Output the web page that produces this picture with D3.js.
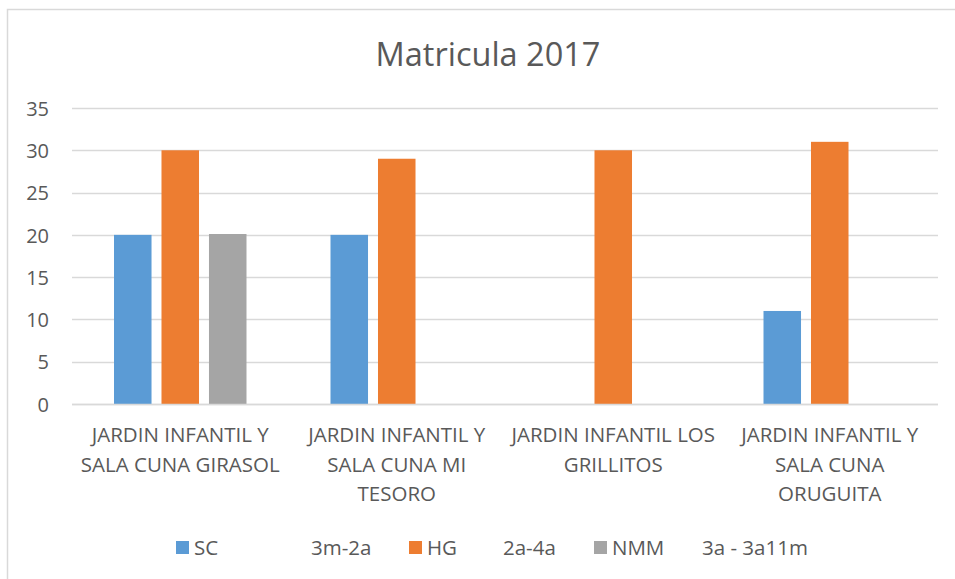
<!DOCTYPE html>
<html>
<head>
<meta charset="utf-8">
<script src="https://cdn.jsdelivr.net/npm/d3@7"></script>
<style>
  html, body { margin: 0; padding: 0; background: #fff; }
  svg text { font-family: "Open Sans", "Noto Sans", sans-serif; fill: #595959; }
</style>
</head>
<body>
<svg id="chart" width="955" height="579"></svg>
<script>
// Enrolment per kindergarten (category labels carry their own line breaks)
const categories = [
  "JARDIN INFANTIL Y\nSALA CUNA GIRASOL",
  "JARDIN INFANTIL Y\nSALA CUNA MI\nTESORO",
  "JARDIN INFANTIL LOS\nGRILLITOS",
  "JARDIN INFANTIL Y\nSALA CUNA\nORUGUITA"
];
const seriesNames = ["SC", "HG", "NMM"];
const seriesAges = ["3m-2a", "2a-4a", "3a - 3a11m"];
const seriesColors = ["#5B9BD5", "#ED7D31", "#A5A5A5"];
const valuesSC = [20, 20, null, 11];
const valuesHG = [30, 29, 30, 31];
const valuesNMM = [20.1, null, null, null];
const yTicks = [0, 5, 10, 15, 20, 25, 30, 35];
const title = "Matricula 2017";

const seriesValues = [valuesSC, valuesHG, valuesNMM];

const svg = d3.select("#chart");
const plot = { left: 72, right: 938, top: 108, bottom: 404 };

// Outer chart border
svg.append("rect")
  .attr("x", 7.5).attr("y", 9.5)
  .attr("width", 980).attr("height", 600)
  .attr("fill", "none").attr("stroke", "#D9D9D9").attr("stroke-width", 1.5);

// Title
svg.append("text")
  .attr("x", 488).attr("y", 66)
  .attr("text-anchor", "middle")
  .style("font-size", "32.5px")
  .text(title);

const y = d3.scaleLinear().domain([0, 35]).range([plot.bottom, plot.top]);
const x0 = d3.scaleBand().domain(categories).range([plot.left, plot.right]).padding(0);
const groupWidth = x0.bandwidth() * 0.612;
const x1 = d3.scaleBand().domain(seriesNames)
  .range([0, groupWidth]).paddingInner(0.21).paddingOuter(0);

// Gridlines
svg.append("g")
  .selectAll("line")
  .data(yTicks)
  .join("line")
  .attr("x1", plot.left).attr("x2", plot.right)
  .attr("y1", d => Math.round(y(d)) + 0.5).attr("y2", d => Math.round(y(d)) + 0.5)
  .attr("stroke", "#D9D9D9").attr("stroke-width", 1.3);

// Y axis labels
const yAxis = d3.axisLeft(y).tickValues(yTicks).tickSize(0).tickPadding(0);
const gy = svg.append("g").attr("transform", `translate(49,0)`).call(yAxis);
gy.select(".domain").remove();
gy.selectAll("text")
  .style("font-size", "20px")
  .style("font-family", "'Open Sans', 'Noto Sans', sans-serif")
  .attr("fill", "#595959")
  .attr("dy", "0.36em");

// Bars
const groups = svg.append("g")
  .selectAll("g")
  .data(categories)
  .join("g")
  .attr("transform", d => `translate(${x0(d) + (x0.bandwidth() - groupWidth) / 2},0)`);

groups.selectAll("rect")
  .data((c, i) => seriesNames.map((s, k) => ({ s, k, v: seriesValues[k][i] })).filter(d => d.v != null))
  .join("rect")
  .attr("x", d => x1(d.s))
  .attr("width", x1.bandwidth())
  .attr("y", d => y(d.v))
  .attr("height", d => y(0) - y(d.v))
  .attr("fill", d => seriesColors[d.k]);

// Category axis line drawn over bar bottoms
svg.append("line")
  .attr("x1", plot.left).attr("x2", plot.right)
  .attr("y1", Math.round(y(0)) + 0.5).attr("y2", Math.round(y(0)) + 0.5)
  .attr("stroke", "#D9D9D9").attr("stroke-width", 1.3);

// Category labels
const xLabels = svg.append("g")
  .selectAll("text")
  .data(categories)
  .join("text")
  .attr("text-anchor", "middle")
  .attr("x", d => x0(d) + x0.bandwidth() / 2)
  .attr("y", 442)
  .style("font-size", "20.5px");
xLabels.selectAll("tspan")
  .data(d => d.split("\n").map(line => ({ line, parent: d })))
  .join("tspan")
  .attr("x", d => x0(d.parent) + x0.bandwidth() / 2)
  .attr("dy", (d, i) => i === 0 ? 0 : 29.5)
  .text(d => d.line);

// Legend
const legendX = [176, 409, 594];
const ageX = [311, 503, 702];
const legend = svg.append("g");
seriesNames.forEach((name, k) => {
  legend.append("rect")
    .attr("x", legendX[k]).attr("y", 541)
    .attr("width", 13).attr("height", 13)
    .attr("fill", seriesColors[k]);
  legend.append("text")
    .attr("x", legendX[k] + 18).attr("y", 555)
    .style("font-size", "20.5px")
    .text(name);
  legend.append("text")
    .attr("x", ageX[k]).attr("y", 555)
    .style("font-size", "20.5px")
    .text(seriesAges[k]);
});
</script>
</body>
</html>
